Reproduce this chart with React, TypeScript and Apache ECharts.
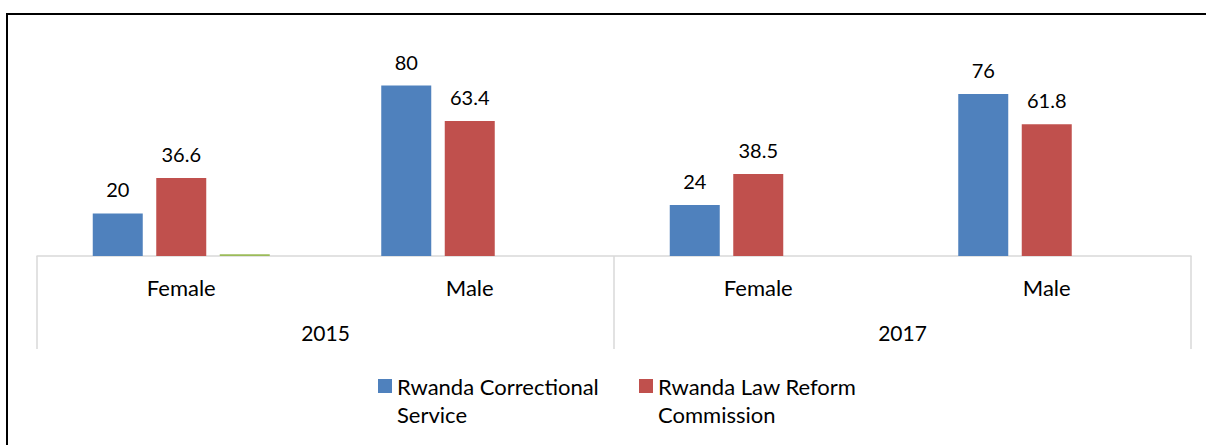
import React, { useEffect, useRef } from 'react';
import * as echarts from 'echarts';

const categories = ['Female', 'Male', 'Female', 'Male'];
const years = ['2015', '2017'];
const correctional = [20, 80, 24, 76];
const lawReform = [36.6, 63.4, 38.5, 61.8];
const series3 = [0.8, 0, 0, 0];
const seriesNames = ['Rwanda Correctional Service', 'Rwanda Law Reform Commission', 'Series3'];
const legendLabels: Record<string, string> = {
  'Rwanda Correctional Service': 'Rwanda Correctional\nService',
  'Rwanda Law Reform Commission': 'Rwanda Law Reform\nCommission',
};

const FONT = 'Lato';
const GRID_COLOR = '#d9d9d9';

export default function App() {
  const ref = useRef<HTMLDivElement>(null);
  useEffect(() => {
    if (!ref.current) return;
    const chart = echarts.init(ref.current, undefined, { renderer: 'svg' });
    const labelStyle = {
      show: true,
      position: 'top' as const,
      distance: 14,
      fontFamily: FONT,
      fontSize: 20,
      color: '#000',
    };
    const legendCommon = {
      icon: 'rect',
      itemWidth: 14,
      itemHeight: 14,
      padding: 0,
      top: 344,
      formatter: (n: string) => '\n' + (legendLabels[n] || n),
      textStyle: { fontFamily: FONT, fontSize: 22, color: '#000', lineHeight: 28 },
      selectedMode: false,
    };
    chart.setOption({
      animation: false,
      backgroundColor: '#fff',
      grid: { left: 37, right: 15, top: 43, bottom: 189, containLabel: false },
      legend: [
        { ...legendCommon, left: 378, data: [seriesNames[0]] },
        { ...legendCommon, left: 639, data: [seriesNames[1]] },
      ],
      xAxis: [
        {
          type: 'category',
          data: categories,
          position: 'bottom',
          axisLine: { show: true, onZero: false, lineStyle: { color: GRID_COLOR, width: 1.5 } },
          axisTick: { show: false },
          axisLabel: { margin: 20, fontFamily: FONT, fontSize: 22, color: '#000', interval: 0 },
        },
        {
          type: 'category',
          data: years,
          position: 'bottom',
          axisLine: { show: false, onZero: false },
          axisTick: { show: true, length: 93, interval: 0, lineStyle: { color: GRID_COLOR, width: 1.5 } },
          axisLabel: { margin: 66, fontFamily: FONT, fontSize: 21, color: '#000', interval: 0 },
        },
      ],
      yAxis: { type: 'value', min: 0, max: 100, show: false, splitLine: { show: false } },
      series: [
        {
          name: seriesNames[0],
          type: 'bar',
          data: correctional,
          barWidth: 50,
          barGap: '27%',
          itemStyle: { color: '#4f81bd' },
          label: labelStyle,
        },
        {
          name: seriesNames[1],
          type: 'bar',
          data: lawReform,
          barWidth: 50,
          barGap: '27%',
          itemStyle: { color: '#c0504d' },
          label: labelStyle,
        },
        {
          name: seriesNames[2],
          type: 'bar',
          data: series3,
          barWidth: 50,
          barGap: '27%',
          itemStyle: { color: '#9bbb59' },
          label: { show: false },
        },
      ],
      graphic: [
        { type: 'line', shape: { x1: 7, y1: 13, x2: 7, y2: 445 }, style: { stroke: '#000', lineWidth: 2 } },
        { type: 'line', shape: { x1: 6, y1: 14, x2: 1206, y2: 14 }, style: { stroke: '#000', lineWidth: 2 } },
      ],
    });
    return () => chart.dispose();
  }, []);
  return (
    <div
      ref={ref}
      style={{ position: 'fixed', left: 0, top: 0, width: 1206, height: 445, background: '#fff' }}
    />
  );
}
